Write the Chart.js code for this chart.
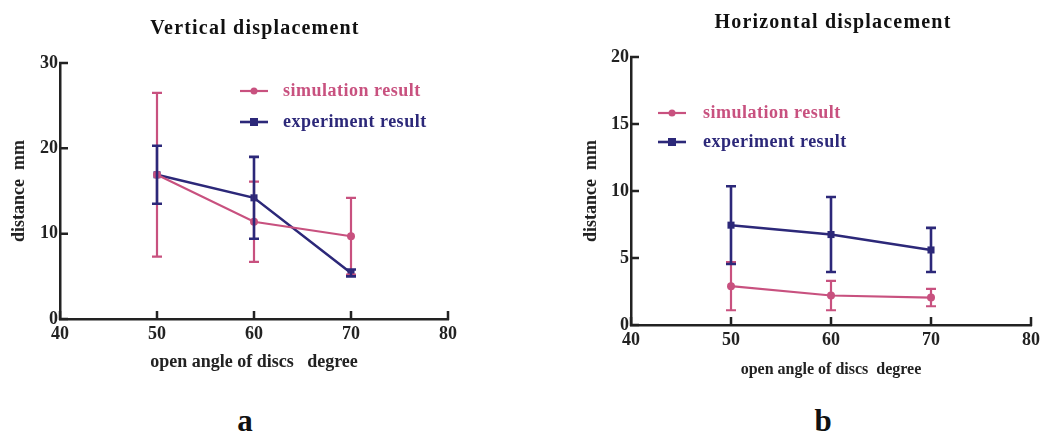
<!DOCTYPE html>
<html lang="en">
<head>
<meta charset="UTF-8">
<title>Displacement vs open angle</title>
<script src="https://cdn.jsdelivr.net/npm/chart.js@4.4.0/dist/chart.umd.min.js"></script>
<style>
    body {
        margin: 0;
        background: #fff;
        font-family: 'Liberation Serif', 'Times New Roman', serif;
    }
    .page {
        position: relative;
        width: 1045px;
        height: 435px;
        overflow: hidden;
    }
    .box {
        position: absolute;
        top: 0;
        height: 400px;
    }
    .title, .tag {
        position: absolute;
        font-weight: bold;
        color: #111;
        transform: translate(-50%, -50%);
        white-space: nowrap;
    }
    .title { font-size: 20px; letter-spacing: 1.2px; }
    .tag { font-size: 31px; }
</style>
</head>
<body>
<div class="page">
    <div class="box" style="left:0;width:480px"><canvas id="vertChart"></canvas></div>
    <div class="box" style="left:560px;width:485px"><canvas id="horizChart"></canvas></div>
    <div class="title" style="left:255px;top:27px">Vertical displacement</div>
    <div class="title" style="left:833px;top:21px">Horizontal displacement</div>
    <div class="tag" style="left:245px;top:421px">a</div>
    <div class="tag" style="left:823px;top:421px">b</div>
</div>

<script>
    // open angle of discs (degree)
    const angles = [50, 60, 70];

    // vertical displacement (mm)
    const vertSim = [16.9, 11.4, 9.7];
    const vertSimErr = [9.6, 4.7, 4.5];
    const vertExp = [16.9, 14.2, 5.4];
    const vertExpErr = [3.4, 4.8, 0.4];

    // horizontal displacement (mm)
    const horizSim = [2.9, 2.2, 2.05];
    const horizSimErr = [1.8, 1.1, 0.65];
    const horizExp = [7.45, 6.75, 5.6];
    const horizExpErr = [2.9, 2.8, 1.65];

    const xTicks = [40, 50, 60, 70, 80];

    const PINK = '#c8517f';
    const NAVY = '#2c2879';
    const FONT = 'Liberation Serif';

    // error bars drawn from the chart's own scales
    const errorBars = {
        id: 'errorBars',
        afterDatasetsDraw(chart) {
            const { ctx, scales: { x, y } } = chart;
            ctx.save();
            chart.data.datasets.forEach(ds => {
                ctx.strokeStyle = ds.borderColor;
                ctx.lineWidth = ds.barWidth;
                ds.data.forEach((p, i) => {
                    const e = ds.err[i];
                    const px = x.getPixelForValue(p.x);
                    const top = y.getPixelForValue(p.y + e);
                    const bot = y.getPixelForValue(p.y - e);
                    ctx.beginPath();
                    ctx.moveTo(px, top); ctx.lineTo(px, bot);
                    ctx.moveTo(px - 5, top); ctx.lineTo(px + 5, top);
                    ctx.moveTo(px - 5, bot); ctx.lineTo(px + 5, bot);
                    ctx.stroke();
                });
            });
            ctx.restore();
        }
    };

    // short tick marks pointing into the plot
    const innerTicks = {
        id: 'innerTicks',
        afterDraw(chart) {
            const { ctx, scales: { x, y } } = chart;
            ctx.save();
            ctx.strokeStyle = '#222';
            ctx.lineWidth = 2.5;
            ctx.beginPath();
            x.ticks.forEach(t => {
                const px = x.getPixelForValue(t.value);
                ctx.moveTo(px, y.bottom + 1); ctx.lineTo(px, y.bottom - 8);
            });
            y.ticks.forEach(t => {
                const py = y.getPixelForValue(t.value);
                ctx.moveTo(x.left - 1, py); ctx.lineTo(x.left + 8, py);
            });
            ctx.stroke();
            ctx.restore();
        }
    };

    // legend placed inside the plot
    const innerLegend = {
        id: 'innerLegend',
        afterDraw(chart, args, opts) {
            const { ctx } = chart;
            ctx.save();
            ctx.font = `bold 18px "${FONT}"`;
            ctx.letterSpacing = '0.5px';
            ctx.textBaseline = 'middle';
            chart.data.datasets.forEach((ds, i) => {
                const y0 = opts.y + i * opts.gap;
                ctx.strokeStyle = ds.borderColor;
                ctx.fillStyle = ds.borderColor;
                ctx.lineWidth = ds.borderWidth;
                ctx.beginPath();
                ctx.moveTo(opts.x, y0); ctx.lineTo(opts.x + 28, y0);
                ctx.stroke();
                ctx.beginPath();
                if (ds.pointStyle === 'rect') {
                    ctx.rect(opts.x + 10, y0 - 4, 8, 8);
                } else {
                    ctx.arc(opts.x + 14, y0, 3.5, 0, Math.PI * 2);
                }
                ctx.fill();
                ctx.fillText(ds.label, opts.textX, y0);
            });
            ctx.restore();
        }
    };

    function series(label, ys, errs, color, style, width) {
        return {
            label: label,
            data: angles.map((a, i) => ({ x: a, y: ys[i] })),
            err: errs,
            borderColor: color,
            backgroundColor: color,
            borderWidth: width,
            barWidth: width,
            pointStyle: style,
            pointRadius: style === 'rect' ? 5 : 4,
            pointBorderWidth: 0,
            tension: 0
        };
    }

    function makeChart(id, cfg) {
        const tickFont = { family: FONT, size: 18, weight: 'bold' };
        return new Chart(document.getElementById(id), {
            type: 'line',
            data: {
                datasets: [
                    series('simulation result', cfg.sim, cfg.simErr, PINK, 'circle', 2.2),
                    series('experiment result', cfg.exp, cfg.expErr, NAVY, 'rect', 2.6)
                ]
            },
            plugins: [errorBars, innerTicks, innerLegend],
            options: {
                responsive: true,
                maintainAspectRatio: false,
                animation: false,
                layout: { padding: cfg.padding },
                plugins: {
                    legend: { display: false },
                    tooltip: { enabled: false },
                    innerLegend: cfg.legend
                },
                scales: {
                    x: {
                        type: 'linear',
                        min: 40,
                        max: 80,
                        afterBuildTicks: s => { s.ticks = xTicks.map(v => ({ value: v })); },
                        grid: { display: false, drawTicks: false },
                        border: { display: true, color: '#222', width: 2.5 },
                        ticks: { font: tickFont, color: '#222', padding: 5, maxRotation: 0 },
                        title: {
                            display: true,
                            text: cfg.xTitle,
                            font: { family: FONT, size: cfg.xTitleSize, weight: 'bold' },
                            color: '#222',
                            padding: { top: 0, bottom: 0 }
                        },
                        afterFit: s => { s.height = 54; }
                    },
                    y: {
                        min: 0,
                        max: cfg.yMax,
                        ticks: { stepSize: cfg.yStep, font: tickFont, color: '#222', padding: 2 },
                        grid: { display: false, drawTicks: false },
                        border: { display: true, color: '#222', width: 2.5 },
                        title: {
                            display: true,
                            text: 'distance  mm',
                            font: { family: FONT, size: 18, weight: 'bold' },
                            color: '#222',
                            padding: { top: cfg.yTitlePad, bottom: 0 }
                        },
                        afterFit: s => { s.width = cfg.yWidth; }
                    }
                }
            }
        });
    }

    makeChart('vertChart', {
        sim: vertSim, simErr: vertSimErr, exp: vertExp, expErr: vertExpErr,
        yMax: 30, yStep: 10, yWidth: 60, yTitlePad: 9,
        xTitle: 'open angle of discs   degree', xTitleSize: 18,
        padding: { left: 0, right: 32, top: 63, bottom: 27 },
        legend: { x: 240, y: 91, gap: 31, textX: 283 }
    });

    makeChart('horizChart', {
        sim: horizSim, simErr: horizSimErr, exp: horizExp, expErr: horizExpErr,
        yMax: 20, yStep: 5, yWidth: 71, yTitlePad: 21,
        xTitle: 'open angle of discs  degree', xTitleSize: 16,
        padding: { left: 0, right: 12, top: 57, bottom: 21 },
        legend: { x: 98, y: 113, gap: 29, textX: 143 }
    });
</script>
</body>
</html>
